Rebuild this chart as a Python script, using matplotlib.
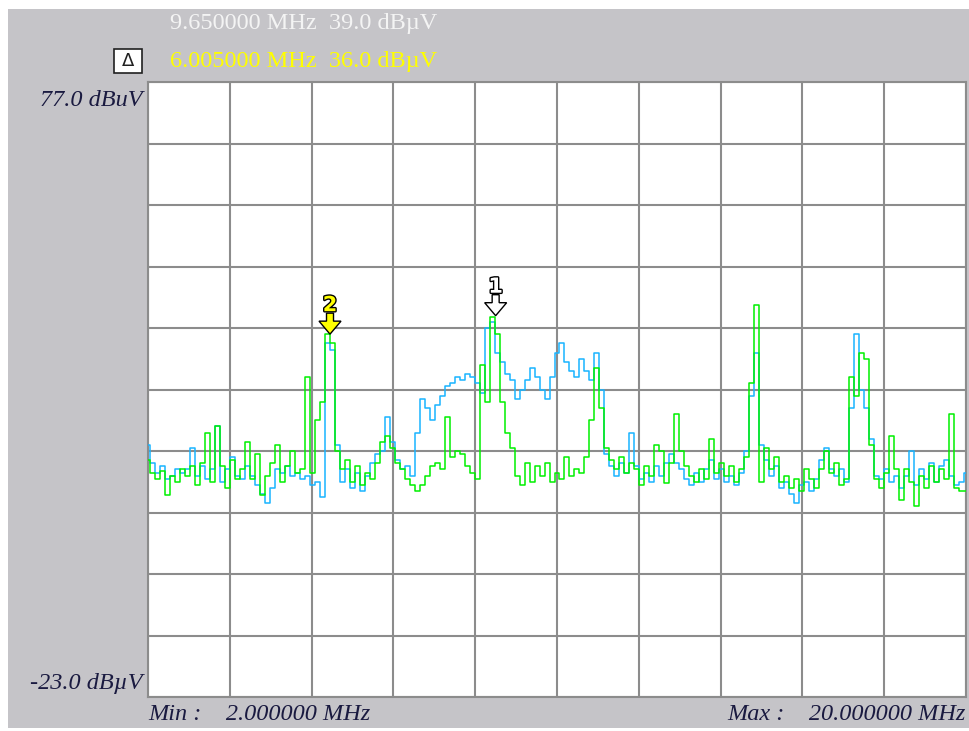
import numpy as np
import matplotlib
matplotlib.use('Agg')
import matplotlib.pyplot as plt
from matplotlib.patches import Rectangle, Polygon
from matplotlib.transforms import Affine2D, ScaledTranslation
import matplotlib.patheffects as pe

# sweep settings
f_min, f_max = 2.0, 20.0       # MHz
ref_top, ref_bottom = 77.0, -23.0  # dBuV

blue_db = [
    18.0, 15.0, 13.5, 14.5, 12.5, 13.0, 14.0, 13.5, 14.0, 17.5,
    13.0, 14.5, 12.5, 14.0, 21.0, 12.0, 14.0, 16.0, 13.0, 12.5,
    14.5, 13.0, 11.5, 10.0, 8.5, 11.0, 14.0, 13.5, 14.5, 13.0,
    13.5, 12.5, 13.0, 11.5, 12.0, 9.5, 34.5, 33.5, 18.0, 12.0,
    14.0, 11.0, 13.5, 10.5, 13.0, 15.0, 16.5, 17.0, 22.5, 18.5,
    15.5, 14.0, 14.5, 13.0, 20.0, 25.5, 24.0, 22.0, 24.5, 26.0,
    27.5, 28.0, 29.0, 28.5, 29.5, 29.0, 28.0, 26.5, 37.0, 38.0,
    33.0, 31.5, 29.5, 28.5, 25.5, 27.0, 28.5, 30.5, 29.0, 27.0,
    25.5, 29.0, 33.0, 34.5, 31.5, 30.0, 29.0, 32.0, 30.0, 28.5,
    33.0, 27.0, 16.5, 14.5, 13.0, 15.0, 13.5, 20.0, 14.5, 12.5,
    13.5, 12.0, 14.5, 13.0, 15.0, 16.5, 15.0, 14.0, 12.5, 11.5,
    13.5, 12.0, 14.0, 15.5, 12.5, 14.0, 12.0, 13.0, 11.5, 13.5,
    17.0, 26.0, 33.0, 18.0, 15.5, 13.0, 14.5, 11.0, 12.0, 10.0,
    8.5, 11.5, 12.0, 10.5, 12.5, 15.5, 17.5, 14.0, 13.0, 14.0,
    12.0, 24.0, 36.0, 27.0, 24.0, 19.0, 13.0, 12.5, 14.0, 12.0,
    13.0, 11.0, 13.0, 17.0, 11.5, 14.0, 12.5, 15.0, 12.0, 14.5,
    15.5, 13.0, 11.5, 12.0, 13.5,
]
green_db = [
    15.5, 13.5, 12.5, 13.8, 9.8, 13.0, 12.0, 14.0, 13.0, 14.5,
    11.5, 15.0, 20.0, 12.0, 21.0, 14.5, 11.0, 15.5, 12.5, 14.0,
    18.5, 12.5, 16.5, 9.8, 13.0, 15.0, 18.0, 12.0, 14.5, 17.0,
    13.5, 14.0, 29.0, 13.5, 22.0, 25.0, 36.0, 34.5, 17.0, 14.0,
    15.5, 12.0, 14.5, 11.5, 13.5, 12.5, 15.0, 18.5, 19.5, 17.5,
    15.0, 14.0, 12.5, 11.5, 10.5, 11.5, 13.0, 14.5, 15.0, 14.0,
    22.5, 16.0, 17.0, 16.5, 14.5, 13.5, 12.5, 31.0, 25.0, 38.8,
    36.0, 25.0, 20.0, 17.5, 13.0, 11.5, 15.0, 12.0, 14.5, 13.0,
    15.0, 12.0, 13.5, 12.5, 16.0, 13.0, 14.0, 13.5, 16.0, 22.0,
    30.5, 24.0, 17.5, 15.5, 14.0, 16.0, 13.5, 15.0, 14.0, 11.5,
    14.5, 13.0, 18.0, 17.0, 11.8, 15.0, 23.0, 17.0, 14.5, 13.0,
    12.0, 14.0, 12.5, 19.0, 13.5, 15.0, 13.0, 14.5, 12.0, 14.0,
    16.0, 28.0, 40.7, 12.0, 17.5, 14.0, 16.0, 12.0, 13.0, 11.0,
    12.5, 10.5, 14.0, 12.5, 11.0, 14.0, 17.0, 13.5, 15.0, 11.5,
    12.5, 29.0, 26.0, 33.0, 32.0, 18.0, 12.5, 11.0, 13.5, 19.5,
    14.0, 9.0, 14.0, 12.0, 8.0, 13.0, 11.0, 14.5, 12.0, 14.0,
    12.5, 23.0, 11.0, 10.5, 10.5,
]
freq = np.linspace(f_min, f_max, len(green_db))

# markers
marker_labels = ['1', '2']
marker_freq = [9.650, 6.005]
marker_level = [39.0, 36.0]
marker_fill = ['white', '#ffff00']

W, H = 969, 731
fig = plt.figure(figsize=(W / 100, H / 100), dpi=100, facecolor='white')

# grey panel
fig.patches.append(Rectangle((8 / W, 3 / H), 961 / W, 719 / H, transform=fig.transFigure,
                             facecolor='#c5c4c8', edgecolor='none', zorder=-10))

ax = fig.add_axes([148 / W, 34 / H, 818 / W, 615 / H])
ax.set_zorder(5)
ax.set_facecolor('white')
ax.set_xlim(f_min, f_max)
ax.set_ylim(ref_bottom, ref_top)
ax.set_xticks(np.linspace(f_min, f_max, 11))
ax.set_yticks(np.linspace(ref_bottom, ref_top, 11))
ax.grid(True, color='#8c8c8c', linewidth=1.5)
ax.tick_params(length=0, labelbottom=False, labelleft=False)
for s in ax.spines.values():
    s.set_color('#8c8c8c')
    s.set_linewidth(1.5)

ax.plot(freq, blue_db, color='#19b4ff', lw=1.1, drawstyle='steps-mid', zorder=3)
ax.plot(freq, green_db, color='#00f000', lw=1.1, drawstyle='steps-mid', zorder=4)

# marker arrows (shape in pixels, tip at the marker point)
arrow = [(0, 0), (11, 13), (3.5, 13), (3.5, 21), (-3.5, 21), (-3.5, 13), (-11, 13)]
for lab, f, lv, fc in zip(marker_labels, marker_freq, marker_level, marker_fill):
    tr = Affine2D() + ScaledTranslation(f, lv, ax.transData)
    ax.add_patch(Polygon(arrow, closed=True, transform=tr, facecolor=fc,
                         edgecolor='black', lw=1.0, zorder=6, clip_on=False))
    ax.text(0, 0, lab, transform=Affine2D().translate(0, 19) + ScaledTranslation(f, lv, ax.transData),
            ha='center', va='bottom', fontsize=15, fontweight='bold', color=fc,
            family='DejaVu Sans', zorder=7,
            path_effects=[pe.withStroke(linewidth=2, foreground='black')])

# header: marker readouts
fig.text(170 / W, 1 - 24 / H, '9.650000 MHz  39.0 dBµV', color='#f4f4f4',
         family='Liberation Serif', fontsize=17.5, va='center', ha='left')
fig.text(170 / W, 1 - 62 / H, '6.005000 MHz  36.0 dBµV', color='#ffff00',
         family='Liberation Serif', fontsize=17.5, va='center', ha='left')

# delta button
fig.patches.append(Rectangle((114 / W, 1 - 73 / H), 28 / W, 24 / H, transform=fig.transFigure,
                             facecolor='white', edgecolor='#202020', lw=1.2, zorder=2))
fig.text(128 / W, 1 - 61 / H, 'Δ', color='#202020', family='DejaVu Sans',
         fontsize=13, ha='center', va='center', zorder=3)

# scale labels
lab_kw = dict(family='Liberation Serif', style='italic', fontsize=17.5, color='#1a1a40')
fig.text(143 / W, 1 - 101 / H, '77.0 dBuV', ha='right', va='center', **lab_kw)
fig.text(143 / W, 1 - 683 / H, '-23.0 dBµV', ha='right', va='center', **lab_kw)
fig.text(148 / W, 1 - 714 / H, 'Min :    2.000000 MHz', ha='left', va='center', **lab_kw)
fig.text(966 / W, 1 - 714 / H, 'Max :    20.000000 MHz', ha='right', va='center', **lab_kw)

fig.savefig('out.png', dpi=100, facecolor='white')
plt.close(fig)
